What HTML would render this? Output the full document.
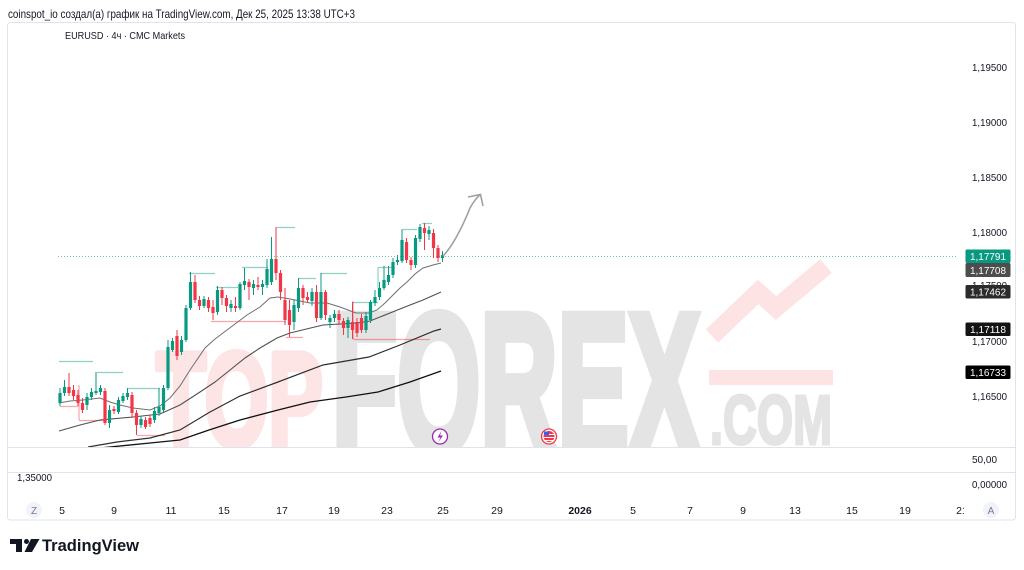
<!DOCTYPE html>
<html><head><meta charset="utf-8"><style>
html,body{margin:0;padding:0;background:#fff;}
svg{display:block;}
text{font-family:"Liberation Sans","Noto Sans CJK SC",sans-serif;fill:#131722;}
</style></head><body>
<svg width="1024" height="570" viewBox="0 0 1024 570" xmlns="http://www.w3.org/2000/svg">
<defs>
<clipPath id="pane"><rect x="8" y="23" width="950" height="424"/></clipPath>
<clipPath id="tax"><rect x="8" y="495" width="956" height="25"/></clipPath>
</defs>
<rect width="1024" height="570" fill="#fff"/>
<text x="8" y="18" font-size="12" textLength="347" lengthAdjust="spacingAndGlyphs">coinspot_io создал(а) график на TradingView.com, Дек 25, 2025 13:38 UTC+3</text>
<rect x="7.5" y="22.5" width="1008" height="497.5" rx="3" fill="#fff" stroke="#e0e3eb"/>

<g clip-path="url(#pane)">
<!-- watermark -->
<text x="156" y="446" font-size="134" font-weight="bold" textLength="167" lengthAdjust="spacingAndGlyphs" style="fill:#fde5e5;stroke:#fde5e5;stroke-width:7;stroke-linejoin:round">TOP</text>
<text x="332" y="452" font-size="198" font-weight="bold" textLength="368" lengthAdjust="spacingAndGlyphs" style="fill:#e4e4e4;stroke:#e4e4e4;stroke-width:10;stroke-linejoin:miter">FOREX</text>
<text x="710" y="444" font-size="70" font-weight="bold" textLength="122" lengthAdjust="spacingAndGlyphs" style="fill:#e4e4e4;stroke:#e4e4e4;stroke-width:3">.COM</text>
<rect x="709" y="370" width="124" height="15" fill="#fde3e3"/>
<polyline points="712,336 758,292 776,308 826,266" fill="none" stroke="#fde3e3" stroke-width="18"/>

<!-- price line -->
<line x1="58" y1="256.5" x2="962" y2="256.5" stroke="#089981" stroke-opacity="0.6" stroke-dasharray="1,2"/>

<!-- pivot lines -->
<g stroke="#089981" stroke-opacity="0.45" stroke-width="1.2" fill="none">
<path d="M59 361.5H93M97 372.5H123M128 388.5H160M189 273.5H215M216 287.5H238M242 267.5H268M277 227.5H295M298 278.5H316M321 273.5H347M353 302.5H378M378 267.5H395M403 229.5H417M422 223.5H432M378 267V288"/>
</g>
<g stroke="#f23645" stroke-opacity="0.45" stroke-width="1.2" fill="none">
<path d="M60 406.5H78M79 420.5H104M137 435.5H165M211 321.5H286M286 337.5H303M353 339.5H430M353 301V339M79 385V420"/>
</g>

<!-- MAs -->
<polyline fill="none" stroke="#6e6e6e" stroke-width="1" points="59,403 70,401 83,400 100,398 110,402 120,405 133,408 150,410 160,406 170,398 180,386 190,370 205,348 215,339 227,330 247,315 260,307 270,298 278,297 290,299 300,301 310,303 327,303 340,307 356,313 369,313 377,310 385,303 390,298 400,288 407,282 415,274 423,268 433,265 441,263"/>
<polyline fill="none" stroke="#505050" stroke-width="1.1" points="59,431 80,425 100,420 133,417 160,414 180,405 200,392 215,382 230,370 245,358 260,348 277,338 290,333 323,325 357,323 370,321 390,313 410,305 423,300 441,292"/>
<polyline fill="none" stroke="#2e2e2e" stroke-width="1.2" points="88,447 117,442 150,438 180,430 210,412 240,396 278,382 323,365 369,357 400,345 434,331 441,329"/>
<polyline fill="none" stroke="#111" stroke-width="1.3" points="90,449 150,443 180,440 209,430 240,420 278,410 310,402 346,397 378,392 410,382 441,371"/>

<!-- candles green -->
<path fill="none" stroke="#089981" stroke-width="1" d="M60 388V406M64.5 380V396M87 393V410M91.5 388V400M96 372V395M100.5 385V395M109.5 405V428M118.5 397V414M123 393V403M127.5 388V400M141 416V428M154.5 407V423M159 388V416M163.5 385V412M168 340V390M172.5 338V352M181.5 336V355M186 305V342M190.5 272V310M204 296V308M217.5 286V315M231 300V312M240 282V310M244.5 268V290M253.5 280V295M262.5 280V295M267 259V288M271.5 237V285M294 300V330M298.5 278V312M312 288V306M321 273V320M330 315V328M334.5 310V322M348 317V338M366 312V333M370.5 300V323M375 290V306M379.5 282V300M384 266V290M388.5 266V285M393 258V278M397.5 255V265M402 229V263M415.5 235V268M420 224V242M429 226V240M442.5 251V262"/>
<path fill="#089981" d="M58.4 393h3.2V403h-3.2ZM62.9 387h3.2V393h-3.2ZM85.4 397h3.2V405h-3.2ZM89.9 392h3.2V397h-3.2ZM94.4 391h3.2V393h-3.2ZM98.9 388h3.2V392h-3.2ZM107.9 410h3.2V423h-3.2ZM116.9 400h3.2V412h-3.2ZM121.4 396h3.2V401h-3.2ZM125.9 393h3.2V397h-3.2ZM139.4 419h3.2V425h-3.2ZM152.9 411h3.2V420h-3.2ZM157.4 407h3.2V413h-3.2ZM161.9 388h3.2V410h-3.2ZM166.4 347h3.2V388h-3.2ZM170.9 341h3.2V350h-3.2ZM179.9 340h3.2V352h-3.2ZM184.4 308h3.2V340h-3.2ZM188.9 282h3.2V308h-3.2ZM202.4 299h3.2V306h-3.2ZM215.9 290h3.2V312h-3.2ZM229.4 304h3.2V308h-3.2ZM238.4 284h3.2V308h-3.2ZM242.9 281h3.2V285h-3.2ZM251.9 284h3.2V288h-3.2ZM260.9 284h3.2V287h-3.2ZM265.4 269h3.2V285h-3.2ZM269.9 259h3.2V282h-3.2ZM292.4 305h3.2V322h-3.2ZM296.9 288h3.2V308h-3.2ZM310.4 292h3.2V301h-3.2ZM319.4 292h3.2V318h-3.2ZM328.4 318h3.2V322h-3.2ZM332.9 314h3.2V318h-3.2ZM346.4 320h3.2V328h-3.2ZM364.4 316h3.2V330h-3.2ZM368.9 302h3.2V320h-3.2ZM373.4 297h3.2V303h-3.2ZM377.9 288h3.2V297h-3.2ZM382.4 280h3.2V288h-3.2ZM386.9 275h3.2V282h-3.2ZM391.4 262h3.2V275h-3.2ZM395.9 260h3.2V262h-3.2ZM400.4 240h3.2V261h-3.2ZM413.9 238h3.2V265h-3.2ZM418.4 227h3.2V239h-3.2ZM427.4 230h3.2V234h-3.2ZM440.9 255h3.2V258h-3.2Z"/>
<!-- candles red -->
<path fill="none" stroke="#f23645" stroke-width="1" d="M69 373V396M73.5 385V400M78 390V406M82.5 398V413M105 388V425M114 406V414M132 392V418M136.5 410V435M145.5 417V429M150 415V427M177 330V360M195 275V303M199.5 296V310M208.5 297V312M213 300V320M222 287V305M226.5 295V312M235.5 297V312M249 279V300M258 277V290M276 227V280M280.5 270V300M285 288V325M289.5 300V337M303 285V305M307.5 292V303M316.5 285V322M325.5 290V320M339 310V325M343.5 318V335M352.5 302V339M357 318V337M361.5 314V333M406.5 238V263M411 257V270M424.5 223V250M433.5 229V258M438 245V262"/>
<path fill="#f23645" d="M67.4 387h3.2V393h-3.2ZM71.9 390h3.2V396h-3.2ZM76.4 395h3.2V403h-3.2ZM80.9 403h3.2V410h-3.2ZM103.4 391h3.2V423h-3.2ZM112.4 409h3.2V411h-3.2ZM130.4 395h3.2V413h-3.2ZM134.9 413h3.2V425h-3.2ZM143.9 420h3.2V427h-3.2ZM148.4 418h3.2V424h-3.2ZM175.4 336h3.2V356h-3.2ZM193.4 282h3.2V300h-3.2ZM197.9 300h3.2V306h-3.2ZM206.9 300h3.2V308h-3.2ZM211.4 307h3.2V313h-3.2ZM220.4 290h3.2V298h-3.2ZM224.9 298h3.2V306h-3.2ZM233.9 306h3.2V308h-3.2ZM247.4 282h3.2V287h-3.2ZM256.4 285h3.2V287h-3.2ZM274.4 259h3.2V273h-3.2ZM278.9 273h3.2V292h-3.2ZM283.4 300h3.2V320h-3.2ZM287.9 310h3.2V325h-3.2ZM301.4 288h3.2V298h-3.2ZM305.9 297h3.2V300h-3.2ZM314.9 292h3.2V318h-3.2ZM323.9 292h3.2V315h-3.2ZM337.4 314h3.2V320h-3.2ZM341.9 321h3.2V328h-3.2ZM350.9 322h3.2V330h-3.2ZM355.4 322h3.2V333h-3.2ZM359.9 318h3.2V330h-3.2ZM404.9 242h3.2V260h-3.2ZM409.4 260h3.2V265h-3.2ZM422.9 228h3.2V233h-3.2ZM431.9 233h3.2V248h-3.2ZM436.4 248h3.2V258h-3.2Z"/>

<!-- drawn arrow -->
<path d="M443 256 C452 247 462 228 470 208 C474 201 477 197 480.5 194.5" fill="none" stroke="#a0a0a0" stroke-width="1.6"/>
<path d="M468 197 L480.5 194.5 L483 206" fill="none" stroke="#a0a0a0" stroke-width="1.6"/>

<!-- event icons -->
<circle cx="440" cy="436.5" r="7.5" fill="#fff" stroke="#9c27b0" stroke-width="1.3"/>
<path d="M441.5 431 L437.5 437.5 L440.5 437.5 L438.5 442 L443 435.5 L440 435.5 Z" fill="#9c27b0"/>
<circle cx="549" cy="436.5" r="7.5" fill="#fff" stroke="#f23645" stroke-width="1.3"/>
<circle cx="549" cy="436.5" r="5.5" fill="#f23645"/>
<path d="M543.5 434.5h11M543.5 437.5h11M544.5 440.5h9" stroke="#fff" stroke-width="1"/>
<rect x="544" y="431.5" width="5" height="3.5" fill="#2962ff"/>
</g>

<!-- text header -->
<text x="65" y="39" font-size="10.5" textLength="120" lengthAdjust="spacingAndGlyphs">EURUSD · 4ч · CMC Markets</text>

<!-- price axis -->
<g font-size="10.5">
<text x="972" y="71" textLength="35" lengthAdjust="spacingAndGlyphs">1,19500</text>
<text x="972" y="126" textLength="35" lengthAdjust="spacingAndGlyphs">1,19000</text>
<text x="972" y="181" textLength="35" lengthAdjust="spacingAndGlyphs">1,18500</text>
<text x="972" y="236" textLength="35" lengthAdjust="spacingAndGlyphs">1,18000</text>
<text x="972" y="289" textLength="35" lengthAdjust="spacingAndGlyphs">1,17500</text>
<text x="972" y="345" textLength="35" lengthAdjust="spacingAndGlyphs">1,17000</text>
<text x="972" y="400" textLength="35" lengthAdjust="spacingAndGlyphs">1,16500</text>
</g>
<g font-size="10.5">
<rect x="965.5" y="249.5" width="45" height="13.5" rx="1.5" fill="#089981"/>
<text x="970" y="260" textLength="36" lengthAdjust="spacingAndGlyphs" style="fill:#fff">1,17791</text>
<rect x="965.5" y="263" width="45" height="14" rx="1.5" fill="#4d4d4d"/>
<text x="970" y="274" textLength="36" lengthAdjust="spacingAndGlyphs" style="fill:#fff">1,17708</text>
<rect x="965.5" y="285" width="45" height="13.5" rx="1.5" fill="#2b2b2b"/>
<text x="970" y="295.5" textLength="36" lengthAdjust="spacingAndGlyphs" style="fill:#fff">1,17462</text>
<rect x="965.5" y="322.5" width="45" height="13.5" rx="1.5" fill="#131313"/>
<text x="970" y="333" textLength="36" lengthAdjust="spacingAndGlyphs" style="fill:#fff">1,17118</text>
<rect x="965.5" y="365.5" width="45" height="13.5" rx="1.5" fill="#000"/>
<text x="970" y="376" textLength="36" lengthAdjust="spacingAndGlyphs" style="fill:#fff">1,16733</text>
</g>

<!-- pane separators -->
<line x1="8" y1="447.5" x2="1015" y2="447.5" stroke="#e0e3eb"/>
<line x1="8" y1="472.5" x2="1015" y2="472.5" stroke="#e0e3eb"/>
<g font-size="10.5">
<text x="972" y="463" textLength="25" lengthAdjust="spacingAndGlyphs">50,00</text>
<text x="17" y="481" textLength="35" lengthAdjust="spacingAndGlyphs">1,35000</text>
<text x="972" y="488" textLength="35" lengthAdjust="spacingAndGlyphs">0,00000</text>
</g>

<!-- time axis -->
<circle cx="34" cy="510" r="8" fill="#f0f3fa"/>
<text x="34" y="514" font-size="10" text-anchor="middle" style="fill:#787b86">Z</text>
<circle cx="991" cy="510" r="8" fill="#f0f3fa"/>
<text x="991" y="514" font-size="10" text-anchor="middle" style="fill:#787b86">A</text>
<g font-size="10.5" text-anchor="middle" clip-path="url(#tax)">
<text x="62" y="514">5</text>
<text x="114" y="514">9</text>
<text x="171" y="514">11</text>
<text x="224" y="514">15</text>
<text x="282" y="514">17</text>
<text x="334" y="514">19</text>
<text x="387" y="514">23</text>
<text x="443" y="514">25</text>
<text x="497" y="514">29</text>
<text x="580" y="514" font-weight="bold">2026</text>
<text x="633" y="514">5</text>
<text x="690" y="514">7</text>
<text x="743" y="514">9</text>
<text x="795" y="514">13</text>
<text x="852" y="514">15</text>
<text x="905" y="514">19</text>
<text x="962" y="514">21</text>
</g>

<!-- TradingView logo -->
<g fill="#131722">
<rect x="10" y="539" width="12" height="5"/>
<rect x="16" y="539" width="6" height="13"/>
<circle cx="26.5" cy="541.5" r="2.5"/>
<polygon points="31,539 39.5,539 32,552 24.5,552"/>
</g>
<text x="42" y="551" font-size="16.5" font-weight="bold" textLength="97" lengthAdjust="spacingAndGlyphs">TradingView</text>
</svg>
</body></html>
